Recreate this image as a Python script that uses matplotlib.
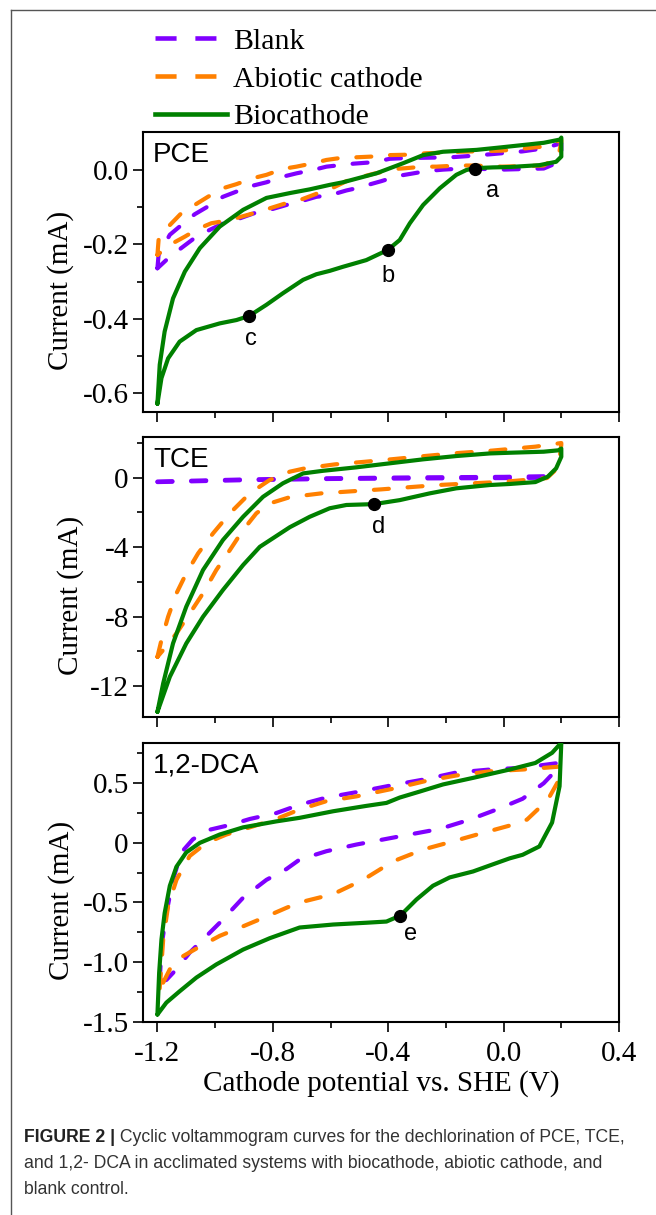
import matplotlib
matplotlib.use("Agg")
import matplotlib.pyplot as plt
from matplotlib.lines import Line2D
from matplotlib.ticker import FixedLocator, FixedFormatter

plt.rcParams['axes.unicode_minus'] = False
SERIF = ['Liberation Serif', 'DejaVu Serif']
SANS = ['Liberation Sans', 'DejaVu Sans']

# ---------------- data ----------------
series_names = ["Blank", "Abiotic cathode", "Biocathode"]
colors = ["#8000FF", "#FF8000", "#008000"]

# PCE
pce_blank_x = [-1.2, -1.196, -1.157, -1.117, -1.071, -1.025, -0.973, -0.926, -0.869, -0.822, -0.765, -0.718,
               -0.661, -0.614, -0.52, -0.45, -0.395, -0.34, -0.186, -0.129, -0.049, 0.066, 0.139, 0.2,
               0.2, 0.182, 0.139, -0.006, -0.118, -0.164, -0.21, -0.268, -0.32, -0.366, -0.424, -0.47, -0.499,
               -0.545, -0.603, -0.649, -0.707, -0.753, -0.811, -0.857, -0.915, -0.961, -1.019, -1.065, -1.111,
               -1.157, -1.2]
pce_blank_y = [-0.264, -0.228, -0.174, -0.148, -0.119, -0.098, -0.072, -0.058, -0.042, -0.033, -0.018, -0.009,
               0.0, 0.009, 0.017, 0.021, 0.030, 0.032, 0.034, 0.037, 0.042, 0.050, 0.058, 0.072,
               0.049, 0.018, 0.004, 0.001, 0.004, 0.003, 0.001, -0.003, -0.010, -0.016, -0.030, -0.040, -0.047,
               -0.055, -0.068, -0.072, -0.085, -0.094, -0.107, -0.114, -0.130, -0.139, -0.161, -0.179, -0.206,
               -0.233, -0.264]
pce_abiotic_x = [-1.2, -1.196, -1.157, -1.117, -1.071, -1.025, -0.973, -0.926, -0.869, -0.822, -0.765, -0.718,
                 -0.661, -0.614, -0.568, -0.458, -0.395, -0.337, -0.268, -0.221, -0.152, -0.006, 0.139, 0.2,
                 0.2, 0.19, 0.139, -0.006, -0.106, -0.158, -0.233, -0.279, -0.337, -0.372, -0.45, -0.499, -0.545,
                 -0.603, -0.649, -0.707, -0.753, -0.811, -0.857, -0.921, -0.961, -1.013, -1.059, -1.105, -1.157, -1.2]
pce_abiotic_y = [-0.228, -0.188, -0.148, -0.116, -0.094, -0.072, -0.049, -0.038, -0.022, -0.013, 0.003, 0.009,
                 0.018, 0.027, 0.032, 0.036, 0.040, 0.041, 0.045, 0.046, 0.049, 0.052, 0.063, 0.081,
                 0.076, 0.036, 0.012, 0.009, 0.012, 0.012, 0.009, 0.009, 0.005, 0.003, -0.010, -0.020, -0.030,
                 -0.052, -0.064, -0.081, -0.089, -0.103, -0.114, -0.128, -0.136, -0.143, -0.158, -0.179, -0.201, -0.228]
pce_bio_x = [-1.2, -1.192, -1.175, -1.146, -1.105, -1.053, -0.984, -0.903, -0.822, -0.741, -0.672, -0.603,
             -0.557, -0.441, -0.349, -0.279, -0.210, -0.094, -0.006, 0.139, 0.197, 0.2,
             0.2, 0.182, 0.124, 0.021, -0.037, -0.098, -0.129, -0.164, -0.221, -0.279, -0.325, -0.360, -0.402,
             -0.476, -0.557, -0.603, -0.649, -0.695, -0.765, -0.822, -0.882, -0.926, -0.984, -1.065, -1.123,
             -1.163, -1.186, -1.2]
pce_bio_y = [-0.628, -0.523, -0.434, -0.345, -0.273, -0.210, -0.152, -0.107, -0.075, -0.062, -0.052, -0.040,
             -0.033, -0.009, 0.018, 0.040, 0.049, 0.054, 0.061, 0.073, 0.082, 0.087,
             0.036, 0.022, 0.013, 0.008, 0.007, 0.005, 0.0, -0.013, -0.049, -0.094, -0.143, -0.188, -0.215,
             -0.242, -0.260, -0.271, -0.280, -0.295, -0.331, -0.362, -0.392, -0.403, -0.412, -0.430, -0.461,
             -0.506, -0.559, -0.628]
pce_mark_x = [-0.098, -0.402, -0.882]
pce_mark_y = [0.004, -0.215, -0.392]
pce_mark_lab = ["a", "b", "c"]

# TCE
tce_blank_x = [-1.2, -0.9, -0.6, -0.3, 0.0, 0.2, 0.2, 0.15, 0.0, -0.3, -0.6, -0.9, -1.2]
tce_blank_y = [-0.22, -0.10, -0.03, 0.02, 0.05, 0.10, 0.08, 0.0, -0.02, -0.04, -0.07, -0.14, -0.25]
tce_abiotic_x = [-1.2, -1.186, -1.163, -1.134, -1.100, -1.059, -1.007, -0.949, -0.880, -0.811, -0.741, -0.689,
                 -0.585, -0.481, -0.378, -0.274, -0.170, -0.042, 0.110, 0.2,
                 0.2, 0.19, 0.15, 0.004, -0.106, -0.227, -0.331, -0.424, -0.516, -0.632, -0.741, -0.811, -0.857,
                 -0.903, -0.949, -0.996, -1.042, -1.088, -1.134, -1.175, -1.2]
tce_abiotic_y = [-10.32, -9.35, -8.01, -6.66, -5.51, -4.36, -3.20, -2.05, -0.90, -0.13, 0.35, 0.54,
                 0.77, 0.92, 1.08, 1.25, 1.41, 1.56, 1.79, 2.0,
                 1.9, 0.6, -0.02, -0.23, -0.32, -0.42, -0.55, -0.67, -0.77, -0.90, -1.12, -1.48, -2.05,
                 -3.01, -4.17, -5.32, -6.66, -7.82, -8.97, -9.83, -10.32]
tce_bio_x = [-1.2, -1.180, -1.146, -1.100, -1.042, -0.973, -0.903, -0.834, -0.765, -0.695, -0.626, -0.510,
             -0.395, -0.279, -0.164, -0.048, 0.021, 0.139, 0.190, 0.2,
             0.2, 0.182, 0.153, 0.110, 0.021, -0.048, -0.164, -0.256, -0.360, -0.449, -0.545, -0.603, -0.672,
             -0.741, -0.845, -0.903, -0.973, -1.042, -1.100, -1.157, -1.2]
tce_bio_y = [-13.49, -11.85, -9.55, -7.43, -5.32, -3.59, -2.25, -1.10, -0.32, 0.25, 0.40, 0.60,
             0.83, 1.06, 1.25, 1.40, 1.44, 1.50, 1.58, 1.68,
             1.21, 0.54, 0.06, -0.25, -0.36, -0.42, -0.61, -0.90, -1.29, -1.52, -1.57, -1.76, -2.25,
             -2.85, -3.98, -5.03, -6.47, -8.01, -9.55, -11.47, -13.49]
tce_mark_x = [-0.449]
tce_mark_y = [-1.52]
tce_mark_lab = ["d"]

# 1,2-DCA
dca_blank_x = [-1.192, -1.186, -1.169, -1.146, -1.117, -1.077, -1.019, -0.949, -0.880, -0.788, -0.707, -0.614,
               -0.499, -0.372, -0.268, -0.164, -0.048, 0.066, 0.19,
               0.19, 0.139, 0.066, -0.013, -0.117, -0.221, -0.326, -0.418, -0.510, -0.614, -0.707, -0.753,
               -0.822, -0.903, -0.984, -1.042, -1.088, -1.134, -1.169, -1.192]
dca_blank_y = [-1.16, -0.87, -0.59, -0.31, -0.08, 0.03, 0.11, 0.15, 0.20, 0.25, 0.32, 0.38,
               0.43, 0.49, 0.535, 0.59, 0.615, 0.63, 0.67,
               0.63, 0.50, 0.37, 0.29, 0.195, 0.117, 0.07, 0.028, -0.014, -0.07, -0.14, -0.22,
               -0.31, -0.46, -0.67, -0.81, -0.92, -1.06, -1.15, -1.16]
dca_abiotic_x = [-1.192, -1.18, -1.163, -1.134, -1.088, -1.030, -0.961, -0.880, -0.788, -0.707, -0.614, -0.510,
                 -0.372, -0.268, -0.164, -0.048, 0.066, 0.197,
                 0.197, 0.153, 0.081, 0.021, -0.071, -0.175, -0.279, -0.383, -0.487, -0.591, -0.707, -0.753,
                 -0.834, -0.903, -0.984, -1.053, -1.111, -1.157, -1.186, -1.192]
dca_abiotic_y = [-1.22, -0.81, -0.53, -0.31, -0.11, 0.0, 0.07, 0.13, 0.20, 0.28, 0.35, 0.39,
                 0.46, 0.52, 0.565, 0.60, 0.615, 0.64,
                 0.55, 0.36, 0.195, 0.145, 0.084, 0.013, -0.056, -0.155, -0.31, -0.43, -0.50, -0.545,
                 -0.63, -0.70, -0.78, -0.87, -0.95, -1.06, -1.20, -1.22]
dca_bio_x = [-1.2, -1.194, -1.186, -1.175, -1.157, -1.134, -1.100, -1.053, -0.984, -0.903, -0.788, -0.707,
             -0.591, -0.476, -0.406, -0.360, -0.291, -0.210, -0.106, 0.021, 0.110, 0.168, 0.2,
             0.2, 0.194, 0.168, 0.124, 0.066, 0.021, -0.037, -0.106, -0.187, -0.245, -0.302, -0.358, -0.406,
             -0.476, -0.591, -0.707, -0.811, -0.903, -0.996, -1.065, -1.123, -1.169, -1.2]
dca_bio_y = [-1.44, -1.09, -0.81, -0.59, -0.36, -0.20, -0.08, 0.0, 0.07, 0.13, 0.18, 0.21,
             0.265, 0.31, 0.335, 0.38, 0.43, 0.49, 0.545, 0.615, 0.67, 0.755, 0.84,
             0.84, 0.475, 0.17, -0.03, -0.10, -0.13, -0.18, -0.24, -0.29, -0.36, -0.475, -0.61, -0.66,
             -0.67, -0.685, -0.71, -0.80, -0.895, -1.02, -1.13, -1.245, -1.34, -1.44]
dca_mark_x = [-0.358]
dca_mark_y = [-0.61]
dca_mark_lab = ["e"]

x_major = [-1.2, -0.8, -0.4, 0.0, 0.4]
x_major_labels = ["-1.2", "-0.8", "-0.4", "0.0", "0.4"]
x_minor = [-1.0, -0.6, -0.2, 0.2]

pce_yticks = [0.0, -0.2, -0.4, -0.6]
pce_ylabels = ["0.0", "-0.2", "-0.4", "-0.6"]
pce_yminor = [-0.1, -0.3, -0.5]
tce_yticks = [0, -4, -8, -12]
tce_ylabels = ["0", "-4", "-8", "-12"]
tce_yminor = [2, -2, -6, -10]
dca_yticks = [0.5, 0.0, -0.5, -1.0, -1.5]
dca_ylabels = ["0.5", "0", "-0.5", "-1.0", "-1.5"]
dca_yminor = [0.75, 0.25, -0.25, -0.75, -1.25]

caption_bold = "FIGURE 2 |"
caption_lines = [" Cyclic voltammogram curves for the dechlorination of PCE, TCE,",
                 "and 1,2- DCA in acclimated systems with biocathode, abiotic cathode, and",
                 "blank control."]

# ---------------- figure ----------------
W, H = 656, 1215
fig = plt.figure(figsize=(W / 100, H / 100), dpi=100)


def fxy(px, py):
    return px / W, 1 - py / H


LW = 3.0
DASH = (3.6, 4.5)

panels = [
    dict(rect=(143, 132.5, 476, 279.5), ylim=(-0.65, 0.1007), name="PCE",
         blank=(pce_blank_x, pce_blank_y), abiotic=(pce_abiotic_x, pce_abiotic_y), bio=(pce_bio_x, pce_bio_y),
         marks=(pce_mark_x, pce_mark_y, pce_mark_lab), yt=(pce_yticks, pce_ylabels, pce_yminor),
         ylab_x=-0.145, split_blank=False),
    dict(rect=(143, 437.3, 476, 279.4), ylim=(-13.77, 2.33), name="TCE",
         blank=(tce_blank_x, tce_blank_y), abiotic=(tce_abiotic_x, tce_abiotic_y), bio=(tce_bio_x, tce_bio_y),
         marks=(tce_mark_x, tce_mark_y, tce_mark_lab), yt=(tce_yticks, tce_ylabels, tce_yminor),
         ylab_x=-0.125, split_blank=True),
    dict(rect=(143, 743.3, 476, 278.4), ylim=(-1.5, 0.835), name="1,2-DCA",
         blank=(dca_blank_x, dca_blank_y), abiotic=(dca_abiotic_x, dca_abiotic_y), bio=(dca_bio_x, dca_bio_y),
         marks=(dca_mark_x, dca_mark_y, dca_mark_lab), yt=(dca_yticks, dca_ylabels, dca_yminor),
         ylab_x=-0.142, split_blank=False),
]

label_offsets = {"a": (17, -28), "b": (0, -32), "c": (2, -29), "d": (5, -29), "e": (10, -24)}


def dashed(ax, xs, ys, color, split=False):
    kw = dict(color=color, lw=LW, dashes=DASH, dash_capstyle='round', dash_joinstyle='round', zorder=2)
    if split:
        # draw both scan branches from the left vertex so their dash phases line up
        n = len(xs) // 2 + (len(xs) % 2)
        ax.plot(xs[:n], ys[:n], **kw)
        ax.plot(xs[n:][::-1], ys[n:][::-1], **kw)
    else:
        ax.plot(xs, ys, **kw)


axes = []
for i, p in enumerate(panels):
    l, t, w, h = p["rect"]
    ax = fig.add_axes([l / W, 1 - (t + h) / H, w / W, h / H])
    axes.append(ax)
    bx, by = p["blank"]
    ox, oy = p["abiotic"]
    gx, gy = p["bio"]
    dashed(ax, bx, by, colors[0], split=p["split_blank"])
    dashed(ax, ox, oy, colors[1])
    ax.plot(gx, gy, color=colors[2], lw=LW, solid_capstyle='round', solid_joinstyle='round', zorder=3)
    mx, my, ml = p["marks"]
    ax.plot(mx, my, 'o', color='black', ms=8.5, zorder=4)
    for x, y, s in zip(mx, my, ml):
        ax.annotate(s, (x, y), xytext=label_offsets[s], textcoords='offset pixels',
                    ha='center', va='baseline', fontsize=17, family=SANS)
    ax.set_xlim(-1.25, 0.4)
    ax.set_ylim(*p["ylim"])
    yt, yl, ym = p["yt"]
    ax.yaxis.set_major_locator(FixedLocator(yt))
    ax.yaxis.set_major_formatter(FixedFormatter(yl))
    ax.yaxis.set_minor_locator(FixedLocator(ym))
    ax.xaxis.set_major_locator(FixedLocator(x_major))
    ax.xaxis.set_minor_locator(FixedLocator(x_minor))
    if i == 2:
        ax.xaxis.set_major_formatter(FixedFormatter(x_major_labels))
    else:
        ax.xaxis.set_major_formatter(FixedFormatter([""] * len(x_major)))
    ax.tick_params(which='both', direction='out', top=False, right=False, width=1.2, color='black')
    ax.tick_params(which='major', length=7.2)
    ax.tick_params(which='minor', length=4.3)
    ax.tick_params(axis='y', which='major', pad=3)
    ax.tick_params(axis='x', which='major', pad=7)
    for lab in ax.get_xticklabels() + ax.get_yticklabels():
        lab.set_fontfamily(SERIF)
        lab.set_fontsize(21)
    for sp in ax.spines.values():
        sp.set_linewidth(1.5)
    ax.text(0.021, 0.894, p["name"], transform=ax.transAxes, ha='left', va='baseline',
            fontsize=20, family=SANS)
    ax.set_ylabel("Current (mA)", fontsize=21, family=SERIF)
    ax.yaxis.set_label_coords(p["ylab_x"], 0.435)

axes[2].set_xlabel("Cathode potential vs. SHE (V)", fontsize=21, family=SERIF)
axes[2].xaxis.set_label_coords(0.5, -0.172)

# legend
handles = [
    Line2D([], [], color=colors[0], lw=3.3, dashes=(4.6, 4.1), dash_capstyle='butt'),
    Line2D([], [], color=colors[1], lw=3.3, dashes=(4.6, 4.1), dash_capstyle='butt'),
    Line2D([], [], color=colors[2], lw=3.3),
]
fig.legend(handles, series_names, loc='upper left', bbox_to_anchor=fxy(155, 28), bbox_transform=fig.transFigure,
           frameon=False, borderpad=0, borderaxespad=0, handlelength=2.4, handletextpad=0.2,
           labelspacing=0.36, prop={'family': SERIF, 'size': 21.5})

# outer frame
fig.add_artist(Line2D([11 / W, 11 / W], [0, 1 - 10 / H], transform=fig.transFigure, color='#555555', lw=1.0))
fig.add_artist(Line2D([11 / W, 1], [1 - 10 / H, 1 - 10 / H], transform=fig.transFigure, color='#555555', lw=1.0))

# caption
CAP_FAMILY = ['Liberation Sans Narrow', 'Liberation Sans']
fig.canvas.draw()
renderer = fig.canvas.get_renderer()
x0, y0 = fxy(24, 1138)
tb = fig.text(x0, y0, caption_bold, fontsize=12.7, fontweight='bold', family=CAP_FAMILY, color='#222222',
              va='center', ha='left')
bb = tb.get_window_extent(renderer)
fig.text(bb.x1 / W, y0, caption_lines[0], fontsize=12.7, family=CAP_FAMILY, color='#333333', va='center', ha='left')
for k, line in enumerate(caption_lines[1:]):
    fig.text(x0, fxy(0, 1164 + 26 * k)[1], line, fontsize=12.7, family=CAP_FAMILY, color='#333333',
             va='center', ha='left')

fig.savefig("out.png", dpi=100)
